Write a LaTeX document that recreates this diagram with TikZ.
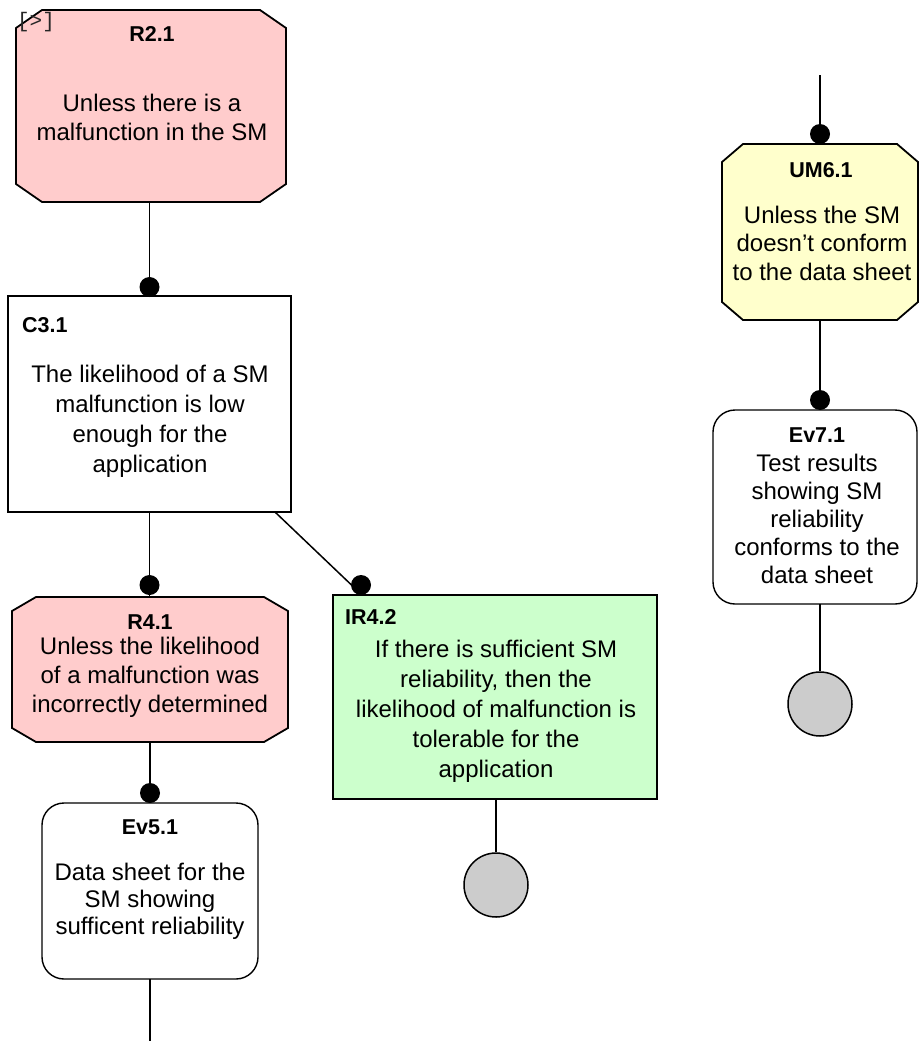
\documentclass[tikz,border=0pt]{standalone}
\usepackage{fontspec}
\setmainfont{Liberation Sans}
\newfontfamily\bracketfont{Liberation Mono}
\usetikzlibrary{calc}
\definecolor{rpink}{HTML}{FFCCCC}
\definecolor{uyellow}{HTML}{FFFFCC}
\definecolor{igreen}{HTML}{CCFFCC}
\definecolor{circgray}{HTML}{CCCCCC}
\newcommand\octpath[4]{%
  \draw[border, fill=#4] ([xshift=#2]#1.north west) -- ([xshift=-#2]#1.north east)
    -- ([yshift=-#3]#1.north east) -- ([yshift=#3]#1.south east)
    -- ([xshift=-#2]#1.south east) -- ([xshift=#2]#1.south west)
    -- ([yshift=#3]#1.south west) -- ([yshift=-#3]#1.north west) -- cycle;}
\begin{document}
\begin{tikzpicture}[x=1pt,y=-1pt,
  conn/.style={line width=1.5pt},
  border/.style={line width=1.8pt},
  dotnode/.style={circle, fill=black, inner sep=0pt, minimum size=20pt},
  boxshape/.style={rectangle, inner sep=0pt, outer sep=0pt},
  plainbox/.style={boxshape, draw, fill=white, line width=1.5pt},
  evbox/.style={boxshape, draw, fill=white, line width=1.4pt, rounded corners=22pt},
  lbl/.style={font=\fontsize{21.5}{25}\selectfont\bfseries, inner sep=0pt},
  body/.style={font=\fontsize{24}{29}\selectfont, align=center, inner sep=0pt},
  endcirc/.style={circle, draw, fill=circgray, line width=1.5pt, minimum size=64pt, inner sep=0pt}]
\useasboundingbox (0,0) rectangle (918,1041);

% boxes
\node[boxshape, minimum width=270pt, minimum height=192pt] (r21) at (151,106) {};
\octpath{r21}{26pt}{18pt}{rpink}
\node[plainbox, minimum width=283pt, minimum height=216pt] (c31) at (149.5,404) {};
\node[boxshape, minimum width=276pt, minimum height=145pt] (r41) at (150,669.5) {};
\octpath{r41}{24pt}{14pt}{rpink}
\node[plainbox, fill=igreen, minimum width=324pt, minimum height=204pt] (ir42) at (495,697) {};
\node[evbox, minimum width=216pt, minimum height=176pt] (ev51) at (150,891) {};
\node[boxshape, minimum width=196pt, minimum height=176pt] (um61) at (820,232) {};
\octpath{um61}{21pt}{18pt}{uyellow}
\node[evbox, minimum width=204pt, minimum height=194pt] (ev71) at (815,507) {};
\node[endcirc] (circ1) at (496,885) {};
\node[endcirc] (circ2) at (820,704) {};

% free ends
\coordinate (topend) at (820,75);
\coordinate (botend) at ($(ev51.south)+(0,62)$);

% connectors
\draw[conn] (c31.north |- r21.south) -- (c31.north);
\node[dotnode] (d1) at ([yshift=9pt]c31.north) {};
\draw[conn] (c31.south) -- (c31.south |- r41.north);
\node[dotnode] (d2) at ([yshift=12pt]c31.south |- r41.north) {};
\coordinate (irstart) at ([xshift=-16pt]c31.south east);
\coordinate (irend) at ([xshift=29pt]ir42.north west);
\draw[conn] (irstart) -- (irend);
\node[dotnode] (d3) at ([xshift=-1pt,yshift=10pt]irend) {};
\draw[conn] (ev51.north |- r41.south) -- (ev51.north);
\node[dotnode] (d4) at ([yshift=10pt]ev51.north) {};
\draw[conn] (ev51.south) -- (botend);
\draw[conn] (circ1.north |- ir42.south) -- (circ1.north);
\draw[conn] (topend) -- (um61.north);
\node[dotnode] (d5) at ([yshift=10pt]um61.north) {};
\draw[conn] (um61.south) -- (um61.south |- ev71.north);
\node[dotnode] (d6) at ([yshift=10pt]um61.south |- ev71.north) {};
\draw[conn] (circ2.north |- ev71.south) -- (circ2.north);

% texts
\node[font=\bracketfont\fontsize{21}{24}\selectfont, text=black!85, inner sep=0pt] (brk) at (36,22) {[>]};
\node[lbl] (lr21) at (152,34) {R2.1};
\node[body] (br21) at (152,117) {Unless there is a\\malfunction in the SM};
\node[lbl, anchor=west] (lc31) at (22,325) {C3.1};
\node[body, font=\fontsize{24}{30}\selectfont] (bc31) at (150,421) {The likelihood of a SM\\malfunction is low\\enough for the\\application};
\node[lbl] (lr41) at (150,622) {R4.1};
\node[body] (br41) at (150,677) {Unless the likelihood\\of a malfunction was\\incorrectly determined};
\node[lbl, anchor=west] (lir42) at (345,617) {IR4.2};
\node[body, font=\fontsize{24}{30}\selectfont] (bir42) at (496,711) {If there is sufficient SM\\reliability, then the\\likelihood of malfunction is\\tolerable for the\\application};
\node[lbl] (lev51) at (150,827) {Ev5.1};
\node[body, font=\fontsize{24}{27}\selectfont] (bev51) at (150,901) {Data sheet for the\\SM showing\\sufficent reliability};
\node[lbl] (lum61) at (821,170) {UM6.1};
\node[body, font=\fontsize{24}{28.5}\selectfont] (bum61) at (822,243) {Unless the SM\\doesn't conform\\to the data sheet};
\node[lbl] (lev71) at (817,435) {Ev7.1};
\node[body, font=\fontsize{24}{28}\selectfont] (bev71) at (817,519) {Test results\\showing SM\\reliability\\conforms to the\\data sheet};
\end{tikzpicture}
\end{document}
